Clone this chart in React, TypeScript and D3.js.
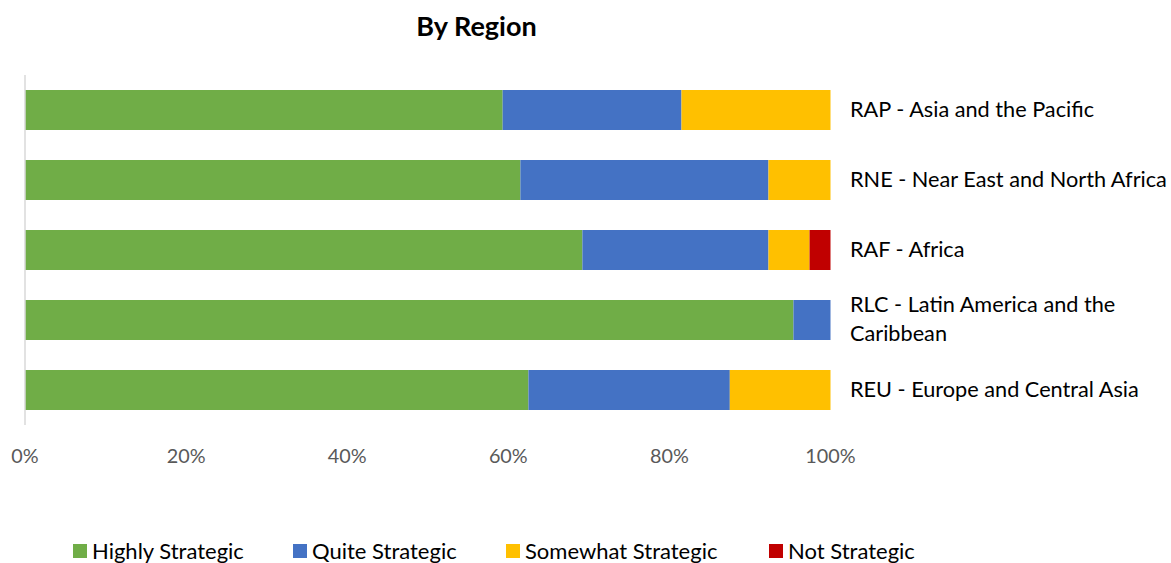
import React from "react";
import * as d3 from "d3";

const regions = [
  "RAP - Asia and the Pacific",
  "RNE - Near East and North Africa",
  "RAF - Africa",
  "RLC - Latin America and the Caribbean",
  "REU - Europe and Central Asia",
];
const regionLines: string[][] = [
  ["RAP - Asia and the Pacific"],
  ["RNE - Near East and North Africa"],
  ["RAF - Africa"],
  ["RLC - Latin America and the", "Caribbean"],
  ["REU - Europe and Central Asia"],
];
const seriesNames = ["Highly Strategic", "Quite Strategic", "Somewhat Strategic", "Not Strategic"];
const seriesColors = ["#70AD47", "#4472C4", "#FFC000", "#C00000"];
const highly = [59.3, 61.5, 69.2, 95.4, 62.5];
const quite = [22.2, 30.8, 23.1, 4.6, 25.0];
const somewhat = [18.5, 7.7, 5.1, 0, 12.5];
const notStrategic = [0, 0, 2.6, 0, 0];
const ticks = [0, 20, 40, 60, 80, 100];

const W = 1171, H = 563;
const FONT = "Lato, 'Open Sans', sans-serif";

export default function App() {
  const x = d3.scaleLinear().domain([0, 100]).range([25, 830.5]);
  const y = d3.scaleBand<string>().domain(regions).range([75, 425]).paddingInner(30 / 70).paddingOuter(15 / 70);
  const rows = regions.map((r, i) => ({
    region: r,
    "Highly Strategic": highly[i],
    "Quite Strategic": quite[i],
    "Somewhat Strategic": somewhat[i],
    "Not Strategic": notStrategic[i],
  }));
  const stack = d3.stack<any>().keys(seriesNames)(rows);
  const legendX = [73, 293, 506, 769];

  return (
    <svg width={W} height={H} style={{ position: "absolute", left: 0, top: 0, background: "#fff" }} fontFamily={FONT}>
      <text x={476.5} y={27} dy="0.35em" textAnchor="middle" fontSize={27} fontWeight="bold" fill="#000">By Region</text>
      {stack.map((s, si) => (
        <g key={si} fill={seriesColors[si]}>
          {s.map((d, i) => (
            d[1] - d[0] > 0 ? (
              <rect key={i} x={x(d[0])} y={y(regions[i])!} width={x(d[1]) - x(d[0])} height={y.bandwidth()} />
            ) : null
          ))}
        </g>
      ))}
      <line x1={x(0)} x2={x(0)} y1={75} y2={425} stroke="#D9D9D9" strokeWidth={1.5} />
      {ticks.map((t) => (
        <text key={t} x={x(t)} y={456} dy="0.35em" textAnchor="middle" fontSize={19.8} fill="#595959">{t}%</text>
      ))}
      {regionLines.map((lines, i) => {
        const cy = y(regions[i])! + y.bandwidth() / 2;
        const lh = 29;
        const start = cy - ((lines.length - 1) * lh) / 2;
        return lines.map((ln, j) => (
          <text key={i + "-" + j} x={850} y={start + j * lh - 1} dy="0.35em" fontSize={21.7} fill="#000">{ln}</text>
        ));
      })}
      {seriesNames.map((n, i) => (
        <g key={n}>
          <rect x={legendX[i]} y={544} width={14} height={14} fill={seriesColors[i]} />
          <text x={legendX[i] + 19} y={551} dy="0.35em" fontSize={22} fill="#000">{n}</text>
        </g>
      ))}
    </svg>
  );
}
